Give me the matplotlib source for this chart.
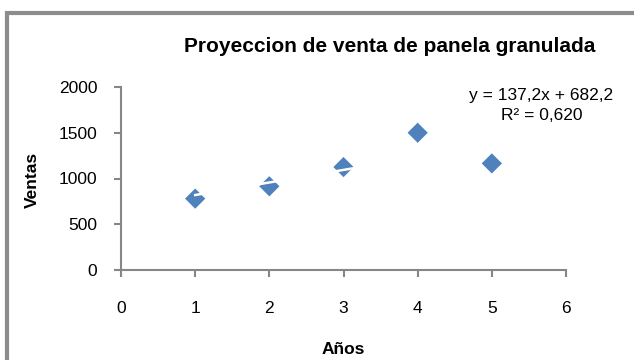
import matplotlib
matplotlib.use('Agg')
import matplotlib.pyplot as plt
from matplotlib.patches import Rectangle
import numpy as np

plt.rcParams['font.family'] = ['Liberation Sans', 'DejaVu Sans']

# Annual sales
years = [1, 2, 3, 4, 5]
sales = [780, 915, 1125, 1500, 1165]

# Linear trend reported for the series
slope = 137.2
intercept = 682.2
r2 = 0.620

x_ticks = [0, 1, 2, 3, 4, 5, 6]
y_ticks = [0, 500, 1000, 1500, 2000]

axis_grey = '#868686'
marker_blue = '#4F81BD'

fig = plt.figure(figsize=(6.34, 3.6), dpi=100)
fig.patch.set_facecolor('white')

# chart area frame (runs off the right and bottom edge)
fig.patches.append(Rectangle((7 / 634, -0.2), 1.2, 1.2 - 13 / 360,
                             transform=fig.transFigure, fill=False,
                             edgecolor='#8c8c8c', linewidth=3))

ax = fig.add_axes([121 / 634, 1 - 270 / 360, (566 - 121) / 634, (270 - 87) / 360])

ax.scatter(years, sales, marker='D', s=10.3 ** 2, color=marker_blue,
           edgecolors='none', zorder=3)

# trendline drawn in white over the markers
xt = np.array([min(years), max(years)])
ax.plot(xt, slope * xt + intercept, color='white', linewidth=1.8, zorder=4)

ax.set_xlim(0, 6)
ax.set_ylim(0, 2000)
ax.set_xticks(x_ticks)
ax.set_yticks(y_ticks)
ax.tick_params(axis='both', colors=axis_grey, labelcolor='black', labelsize=12.5,
               length=5, width=1.5, direction='out')
ax.tick_params(axis='x', pad=17)
ax.tick_params(axis='y', pad=12)

for side in ['top', 'right']:
    ax.spines[side].set_visible(False)
for side in ['left', 'bottom']:
    ax.spines[side].set_color(axis_grey)
    ax.spines[side].set_linewidth(1.5)

fmt = lambda v, d: f'{v:.{d}f}'.replace('.', ',')
ax.text(0.945, 0.9, f'y = {fmt(slope, 1)}x + {fmt(intercept, 1)}\nR² = {fmt(r2, 3)}',
        transform=ax.transAxes, ha='center', va='center', fontsize=12.5,
        linespacing=1.45)

fig.text(390 / 634, 1 - 47 / 360, 'Proyeccion de venta de panela granulada',
         ha='center', va='center', fontsize=15, fontweight='bold')
fig.text(32 / 634, 1 - 180 / 360, 'Ventas', rotation=90, ha='center',
         va='center', fontsize=12.5, fontweight='bold')
fig.text(343 / 634, 1 - 350 / 360, 'Años', ha='center', va='center',
         fontsize=12.5, fontweight='bold')

plt.savefig('out.png', dpi=100)
